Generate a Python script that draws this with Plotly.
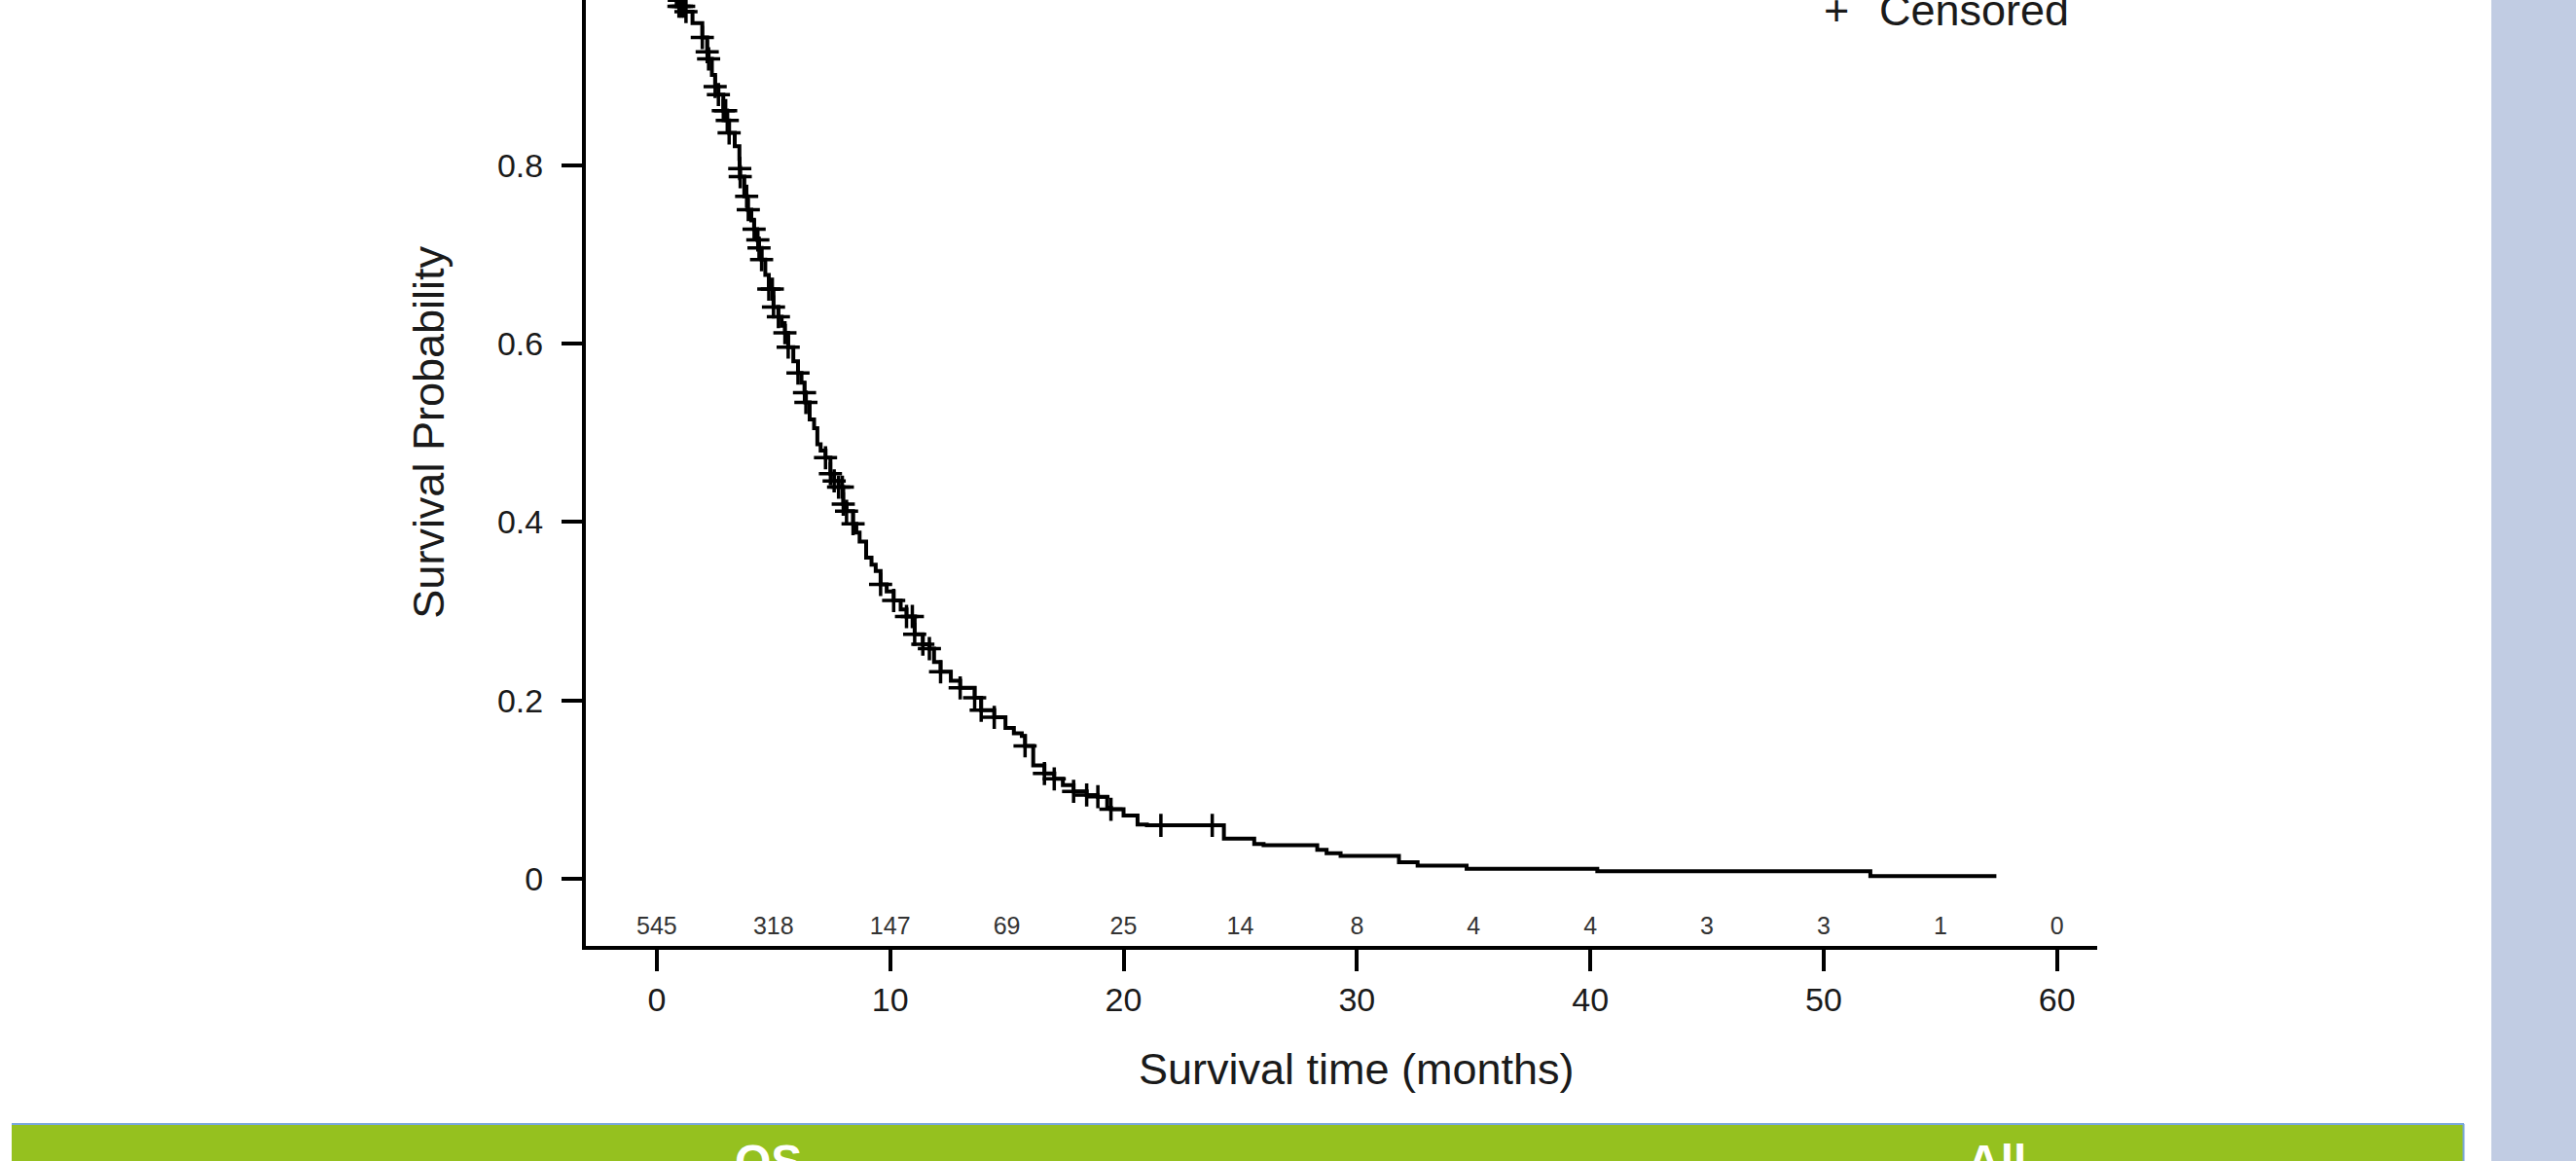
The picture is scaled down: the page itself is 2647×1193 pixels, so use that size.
import plotly.graph_objects as go

# ---------------- data ----------------
km_time = [0, 0.3, 0.55, 0.85, 1.18, 1.53, 1.95, 2.16, 2.22, 2.36, 2.50, 2.64, 2.85, 3.02, 3.10,
           3.34, 3.54, 3.55, 3.57, 3.75, 3.89, 4.05, 4.17, 4.30, 4.38, 4.49, 4.65, 4.80, 5.00,
           5.21, 5.35, 5.49, 5.63, 5.85, 6.05, 6.20, 6.33, 6.39, 6.55, 6.74, 6.88, 7.02, 7.23,
           7.44, 7.60, 7.79, 7.99, 8.13, 8.41, 8.55, 8.69, 8.97, 9.20, 9.38, 9.59, 9.85, 10.15,
           10.45, 10.70, 11.05, 11.40, 11.68, 11.88, 12.16, 12.60, 13.00, 13.62, 13.90, 14.46,
           14.94, 15.30, 15.64, 15.78, 16.13, 16.61, 17.03, 17.40, 17.86, 18.42, 18.90, 19.30,
           19.46, 20.00, 20.60, 21.00, 24.30, 25.60, 26.00, 28.30, 28.70, 29.30, 31.80, 32.60,
           34.70, 40.30, 52.00, 57.40]
km_surv = [1.0, 0.995, 0.985, 0.978, 0.972, 0.959, 0.943, 0.927, 0.919, 0.901, 0.888, 0.879, 0.861,
           0.850, 0.836, 0.821, 0.807, 0.796, 0.787, 0.765, 0.750, 0.738, 0.728, 0.716, 0.707,
           0.694, 0.677, 0.661, 0.641, 0.630, 0.620, 0.612, 0.596, 0.580, 0.567, 0.556, 0.545,
           0.534, 0.515, 0.505, 0.487, 0.480, 0.472, 0.454, 0.446, 0.439, 0.420, 0.412, 0.398,
           0.388, 0.378, 0.360, 0.352, 0.345, 0.330, 0.322, 0.312, 0.302, 0.294, 0.274, 0.263,
           0.258, 0.243, 0.232, 0.222, 0.214, 0.203, 0.189, 0.181, 0.169, 0.163, 0.160, 0.149,
           0.127, 0.118, 0.112, 0.105, 0.098, 0.094, 0.092, 0.0796, 0.078, 0.0709, 0.061, 0.060,
           0.045, 0.039, 0.0378, 0.0324, 0.0287, 0.0258, 0.0185, 0.0149, 0.0113, 0.0084, 0.003,
           0.003]
censor_time = [0.95, 1.05, 1.15, 1.25, 1.95, 2.16, 2.22, 2.50, 2.64, 2.85, 2.95, 3.02, 3.10,
               3.555, 3.575, 3.85, 3.92, 4.17, 4.33, 4.38, 4.49, 4.80, 4.95, 5.00, 5.21, 5.49,
               5.63, 6.05, 6.33, 6.39, 7.23, 7.44, 7.60, 7.79, 7.95, 7.99, 8.13, 8.41, 9.59,
               10.15, 10.70, 10.95, 11.05, 11.40, 11.68, 12.16, 13.00, 13.62, 13.90, 14.46,
               15.78, 16.61, 17.03, 17.86, 18.42, 18.90, 19.46, 21.6, 23.8]
risk_time = [0, 5, 10, 15, 20, 25, 30, 35, 40, 45, 50, 55, 60]
risk_count = [545, 318, 147, 69, 25, 14, 8, 4, 4, 3, 3, 1, 0]
x_tick_vals = [0, 10, 20, 30, 40, 50, 60]
y_tick_vals = [0, 0.2, 0.4, 0.6, 0.8]
y_tick_text = ["0", "0.2", "0.4", "0.6", "0.8"]
footer_labels = ["OS", "All"]


def surv_at(t):
    s = km_surv[0]
    for tt, ss in zip(km_time, km_surv):
        if tt <= t:
            s = ss
        else:
            break
    return s


censor_surv = [surv_at(t) for t in censor_time]

# ---------------- geometry ----------------
W, H = 2647, 1193
ML, MR, MT, MB = 602, W - 2155, 0, H - 972
PW, PH = W - ML - MR, H - MT - MB
FONT = "Liberation Sans, Arial, Helvetica, sans-serif"
RISK_Y = -0.0556


def px(xp):
    return (xp - ML) / PW


def py(yp):
    return (MT + PH - yp) / PH


fig = go.Figure()

fig.add_trace(go.Scatter(
    x=km_time, y=km_surv, mode="lines", line=dict(color="black", width=4, shape="hv"),
    showlegend=False, hoverinfo="skip", cliponaxis=True))

fig.add_trace(go.Scatter(
    x=censor_time, y=censor_surv, mode="markers", name="Censored",
    marker=dict(symbol="cross-thin", size=17, line=dict(color="black", width=3.5)),
    showlegend=False, cliponaxis=True))

fig.add_trace(go.Scatter(
    x=risk_time, y=[RISK_Y] * len(risk_time), mode="text",
    text=[str(v) for v in risk_count], textposition="middle center",
    textfont=dict(family=FONT, size=25, color="#333333"),
    showlegend=False, hoverinfo="skip", cliponaxis=False))

shapes = [
    # right blue-grey band
    dict(type="rect", xref="paper", yref="paper", x0=px(2560), x1=px(2660), y0=py(1210), y1=py(-10),
         fillcolor="#C1CCE3", line=dict(width=0), layer="below"),
    # green footer bar
    dict(type="rect", xref="paper", yref="paper", x0=px(12), x1=px(2532), y0=py(1210), y1=py(1155.5),
         fillcolor="#95C11F", line=dict(width=0), layer="below"),
    dict(type="line", xref="paper", yref="paper", x0=px(12), x1=px(2532), y0=py(1155), y1=py(1155),
         line=dict(color="#7AA7DB", width=2), layer="below"),
    dict(type="line", xref="paper", yref="paper", x0=px(2531.5), x1=px(2531.5), y0=py(1155), y1=py(1210),
         line=dict(color="#7AA7DB", width=2), layer="below"),
]

annotations = [
    dict(text="Survival time (months)", xref="x", x=30, yref="paper", y=py(1098),
         xanchor="center", yanchor="middle", showarrow=False,
         font=dict(family=FONT, size=45, color="#1a1a1a")),
    dict(text="Survival Probability", xref="paper", x=px(441), yref="y", y=0.5,
         xanchor="center", yanchor="middle", textangle=-90, showarrow=False,
         font=dict(family=FONT, size=45, color="#1a1a1a")),
    dict(text="+", xref="paper", x=px(1887), yref="paper", y=py(10.4),
         xanchor="center", yanchor="middle", showarrow=False,
         font=dict(family=FONT, size=45, color="#1a1a1a")),
    dict(text="Censored", xref="paper", x=px(1929), yref="paper", y=py(10.4),
         xanchor="left", yanchor="middle", showarrow=False,
         font=dict(family=FONT, size=45, color="#1a1a1a")),
    dict(text="<b>%s</b>" % footer_labels[0], xref="paper", x=px(789), yref="paper", y=py(1193),
         xanchor="center", yanchor="middle", showarrow=False,
         font=dict(family=FONT, size=48, color="white")),
    dict(text="<b>%s</b>" % footer_labels[1], xref="paper", x=px(2051), yref="paper", y=py(1193),
         xanchor="center", yanchor="middle", showarrow=False,
         font=dict(family=FONT, size=48, color="white")),
]

fig.update_layout(
    width=W, height=H, autosize=False,
    margin=dict(l=ML, r=MR, t=MT, b=MB, pad=0),
    paper_bgcolor="white", plot_bgcolor="white",
    showlegend=False,
    shapes=shapes, annotations=annotations,
    xaxis=dict(range=[-3.04, 61.72], tickvals=x_tick_vals, ticks="outside", ticklen=22, tickwidth=4,
               tickcolor="black", showline=True, linewidth=4, linecolor="black", showgrid=False,
               zeroline=False, tickfont=dict(family=FONT, size=34, color="#1a1a1a"), automargin=False),
    yaxis=dict(range=[-0.0752, 0.985], tickvals=y_tick_vals, ticktext=y_tick_text, ticks="outside",
               ticklen=21, tickwidth=4, tickcolor="black", showline=True, linewidth=4,
               linecolor="black", showgrid=False, zeroline=False, ticklabelstandoff=12,
               tickfont=dict(family=FONT, size=34, color="#1a1a1a"), automargin=False),
)

fig.write_html("out.html")
